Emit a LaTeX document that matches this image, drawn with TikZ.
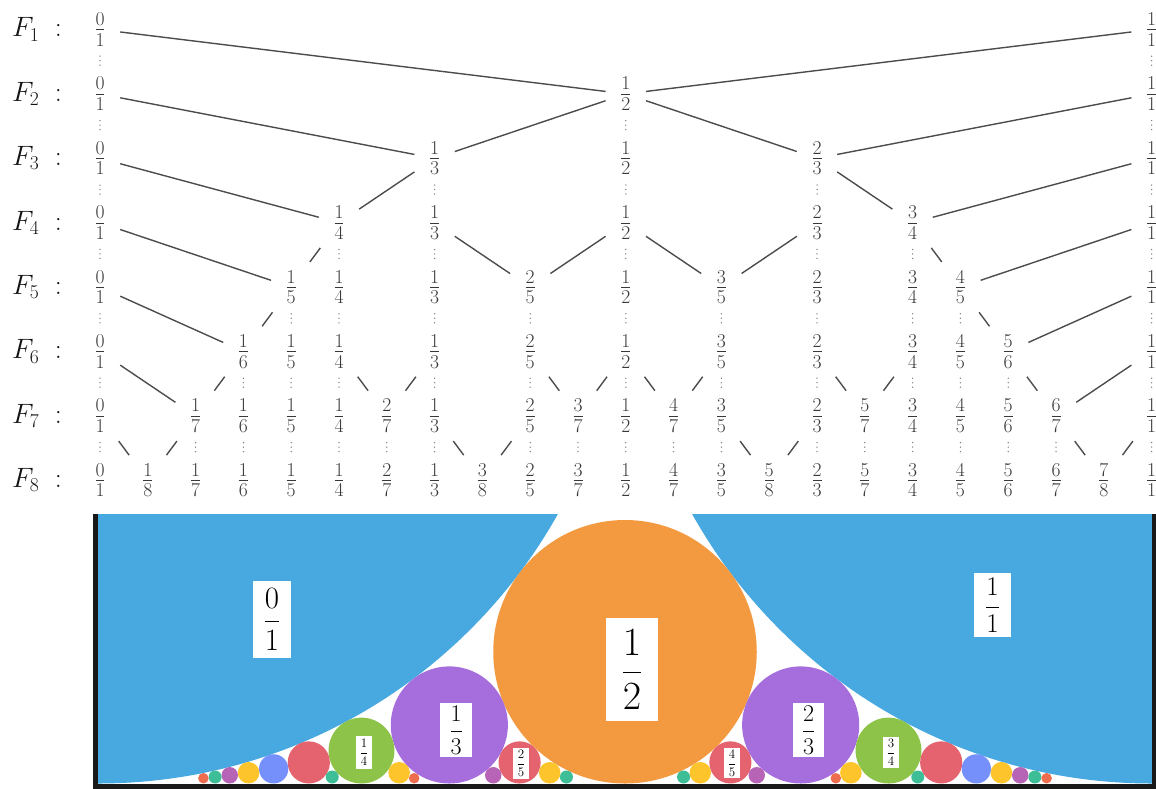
\RequirePackage{fix-cm}
\documentclass[tikz,border=0pt]{standalone}
\definecolor{fq1}{HTML}{48A9E0}
\definecolor{fq2}{HTML}{F39A40}
\definecolor{fq3}{HTML}{A66EDC}
\definecolor{fq4}{HTML}{8DC349}
\definecolor{fq5}{HTML}{E5636F}
\definecolor{fq6}{HTML}{7590FB}
\definecolor{fq7}{HTML}{FEC42C}
\definecolor{fq8}{HTML}{B764B7}
\definecolor{fq9}{HTML}{3DBE96}
\definecolor{fq10}{HTML}{EE6D4E}
\begin{document}
\begin{tikzpicture}[x=1pt,y=-1pt,
  fracnode/.style={minimum width=40pt, minimum height=50pt, inner sep=0pt, text=black!78, font=\fontsize{28}{34}\selectfont},
  flab/.style={anchor=west, inner sep=0pt, text=black!92, font=\fontsize{28}{34}\selectfont},
  edge/.style={draw=black!70, line width=1.4pt},
  vd/.style={draw=black!50, line width=1.5pt, line cap=round, dash pattern=on 0pt off 4.5pt, shorten <=1.5pt, shorten >=1.5pt},
  lab/.style={fill=white, inner sep=0pt, text=black}
]
\useasboundingbox (0,0) rectangle (1156,788);
% row labels
\foreach \n in {1,...,8}
  \node[flab] (F\n) at (12, {29.5+64.4*(\n-1)}) {$F_{\n}\;:$};
% fraction nodes and vertical dotted links
\foreach \i/\p/\q in {0/0/1,1/1/8,2/1/7,3/1/6,4/1/5,5/1/4,6/2/7,7/1/3,8/3/8,9/2/5,10/3/7,11/1/2,12/4/7,13/3/5,14/5/8,15/2/3,16/5/7,17/3/4,18/4/5,19/5/6,20/6/7,21/7/8,22/1/1}{
  \foreach \n in {\q,...,8}{
    \node[fracnode] (r\n-\i) at ({100+47.8*\i},{29.5+64.4*(\n-1)}) {$\frac{\p}{\q}$};
    \ifnum\n>\q\relax
      \pgfmathtruncatemacro\m{\n-1}
      \draw[vd] (r\m-\i) -- (r\n-\i);
    \fi
  }
}
% mediant links
\foreach \n/\a/\b in {2/0/11,2/22/11,
  3/0/7,3/11/7,3/11/15,3/22/15,
  4/0/5,4/7/5,4/15/17,4/22/17,
  5/0/4,5/5/4,5/7/9,5/11/9,5/11/13,5/15/13,5/17/18,5/22/18,
  6/0/3,6/4/3,6/18/19,6/22/19,
  7/0/2,7/3/2,7/5/6,7/7/6,7/9/10,7/11/10,7/11/12,7/13/12,7/15/16,7/17/16,7/19/20,7/22/20,
  8/0/1,8/2/1,8/7/8,8/9/8,8/13/14,8/15/14,8/20/21,8/22/21}{
  \pgfmathtruncatemacro\m{\n-1}
  \draw[edge] (r\m-\a) -- (r\n-\b);
}
% Ford circles
\begin{scope}
\clip (98,514) rectangle (1152,783.5);
\foreach \p/\q in {0/1,1/1,1/2,1/3,2/3,1/4,3/4,1/5,2/5,3/5,4/5,1/6,5/6,
  1/7,2/7,3/7,4/7,5/7,6/7,1/8,3/8,5/8,7/8,1/9,2/9,4/9,5/9,7/9,8/9,1/10,3/10,7/10,9/10}{
  \pgfmathsetmacro\rr{527/(\q*\q)}
  \fill[fq\q] ({98+1054*\p/\q},{783.5-\rr}) circle[radius=\rr pt];
}
\end{scope}
\draw[line width=5pt, black!90] (95.5,514) -- (95.5,786) -- (1154,786) -- (1154,514);
% labels
\node[lab, minimum width=38pt, minimum height=77pt, font=\fontsize{31}{36}\selectfont] (l01) at (272,619.5) {$\displaystyle\frac{0}{1}$};
\node[lab, minimum width=37pt, minimum height=64pt, font=\fontsize{27}{32}\selectfont] (l11) at (992.5,605) {$\displaystyle\frac{1}{1}$};
\node[lab, minimum width=52pt, minimum height=103pt, font=\fontsize{40}{46}\selectfont] (l12) at (632,669.5) {$\displaystyle\frac{1}{2}$};
\node[lab, minimum width=32pt, minimum height=54pt, font=\fontsize{24}{28}\selectfont] (l13) at (456,730) {$\displaystyle\frac{1}{3}$};
\node[lab, minimum width=31pt, minimum height=54pt, font=\fontsize{24}{28}\selectfont] (l23) at (808.5,730) {$\displaystyle\frac{2}{3}$};
\node[lab, minimum width=16pt, minimum height=33pt, font=\fontsize{13}{16}\selectfont] (l14) at (364,752.5) {$\displaystyle\frac{1}{4}$};
\node[lab, minimum width=16pt, minimum height=31pt, font=\fontsize{13}{16}\selectfont] (l34) at (891,752.5) {$\displaystyle\frac{3}{4}$};
\node[lab, minimum width=16pt, minimum height=31pt, font=\fontsize{13}{16}\selectfont] (l25) at (521,763.5) {$\displaystyle\frac{2}{5}$};
\node[lab, minimum width=16pt, minimum height=30pt, font=\fontsize{13}{16}\selectfont] (l45) at (732,763) {$\displaystyle\frac{4}{5}$};
\end{tikzpicture}
\end{document}
